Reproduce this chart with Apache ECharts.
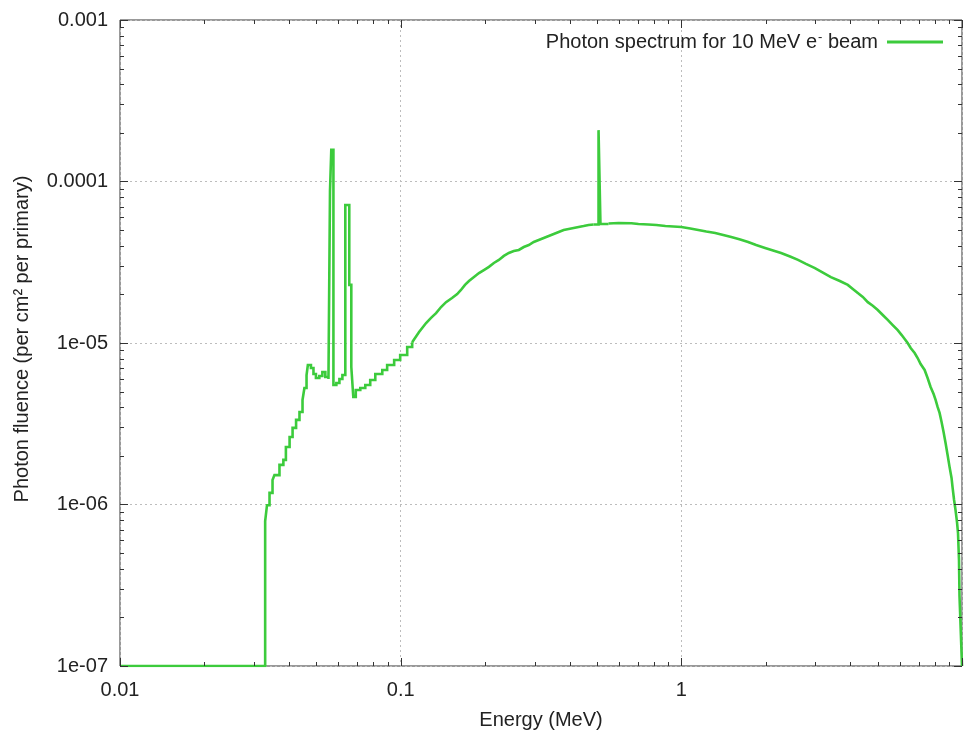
<!DOCTYPE html>
<html>
<head>
<meta charset="utf-8">
<script src="https://cdn.jsdelivr.net/npm/echarts@6/dist/echarts.min.js"></script>
<style>
html,body{margin:0;padding:0;background:#fff;}
#chart{width:965px;height:738px;}
</style>
</head>
<body>
<div id="chart"></div>
<script>
// Photon energy bin edges (MeV) and fluence (per cm^2 per primary)
const energy = [
  0.01, 0.0329, 0.0334, 0.0341, 0.03495, 0.0355, 0.0370, 0.0382, 0.0390, 0.0402,
  0.0412, 0.0424, 0.0436, 0.0447, 0.0454, 0.0462, 0.0467, 0.0479, 0.0489, 0.0499,
  0.0513, 0.0526, 0.0539, 0.0553, 0.0560, 0.0566, 0.0576, 0.0590, 0.0605, 0.0620,
  0.0635, 0.0656, 0.0667, 0.0678, 0.0692, 0.0718, 0.0748, 0.0779, 0.0812, 0.0860,
  0.0895, 0.0948, 0.0996, 0.1055, 0.1099, 0.1163, 0.1232, 0.1283, 0.1337, 0.1393,
  0.1451, 0.1524, 0.1590, 0.1640, 0.1695, 0.1751, 0.1825, 0.1901, 0.1979, 0.2063,
  0.2148, 0.2238, 0.2332, 0.2429, 0.2530, 0.2636, 0.2746, 0.2861, 0.2980, 0.3104,
  0.3234, 0.3369, 0.3510, 0.3657, 0.3809, 0.3968, 0.4133, 0.4306, 0.4486, 0.4673,
  0.4868, 0.507, 0.515, 0.5504, 0.5974, 0.6644, 0.7034, 0.7635, 0.8150, 0.8773,
  0.9367, 1.000, 1.0764, 1.1493, 1.2272, 1.3210, 1.4105, 1.5061, 1.6212, 1.7298,
  1.8469, 1.9880, 2.1227, 2.2664, 2.4397, 2.6046, 2.7797, 2.9923, 3.1947, 3.4105,
  3.6707, 3.9189, 4.0832, 4.2541, 4.4314, 4.6168, 4.8099, 5.0100, 5.2196, 5.4368,
  5.6643, 5.9013, 6.0974, 6.2482, 6.4038, 6.5634, 6.7816, 6.9492, 7.1223, 7.3590,
  7.5414, 7.7292, 7.9218, 8.0524, 8.1850, 8.3200, 8.4571, 8.5966, 8.7385, 8.8826,
  9.0290, 9.1779, 9.2532, 9.3677, 9.4828, 9.5991, 9.6781, 9.7563, 9.797, 10
];
const fluence = [
  1e-7, 7.90e-7, 9.9e-7, 1.18e-6, 1.42e-6, 1.52e-6, 1.76e-6, 1.89e-6, 2.27e-6, 2.62e-6,
  2.98e-6, 3.34e-6, 3.74e-6, 4.44e-6, 5.27e-6, 6.34e-6, 7.31e-6, 7.00e-6, 6.43e-6, 6.07e-6,
  6.25e-6, 6.61e-6, 6.16e-6, 5.98e-6, 8.73e-5, 1.57e-4, 5.49e-6, 5.65e-6, 5.98e-6, 6.34e-6,
  7.15e-5, 2.29e-5, 7.10e-6, 4.63e-6, 5.12e-6, 5.27e-6, 5.49e-6, 5.90e-6, 6.43e-6, 6.81e-6,
  7.31e-6, 7.85e-6, 8.43e-6, 9.45e-6, 1.01e-5, 1.17e-5, 1.33e-5, 1.43e-5, 1.53e-5, 1.67e-5,
  1.79e-5, 1.90e-5, 2.01e-5, 2.13e-5, 2.29e-5, 2.42e-5, 2.56e-5, 2.71e-5, 2.83e-5, 2.96e-5,
  3.13e-5, 3.27e-5, 3.46e-5, 3.61e-5, 3.71e-5, 3.77e-5, 3.93e-5, 4.04e-5, 4.22e-5, 4.34e-5,
  4.47e-5, 4.60e-5, 4.73e-5, 4.87e-5, 5.01e-5, 5.08e-5, 5.15e-5, 5.23e-5, 5.30e-5, 5.38e-5,
  5.42e-5, 2.08e-4, 5.46e-5, 5.49e-5, 5.53e-5, 5.52e-5, 5.46e-5, 5.42e-5, 5.38e-5, 5.30e-5,
  5.27e-5, 5.23e-5, 5.12e-5, 5.01e-5, 4.90e-5, 4.80e-5, 4.66e-5, 4.53e-5, 4.38e-5, 4.22e-5,
  4.04e-5, 3.88e-5, 3.74e-5, 3.61e-5, 3.43e-5, 3.27e-5, 3.09e-5, 2.91e-5, 2.73e-5, 2.56e-5,
  2.42e-5, 2.29e-5, 2.16e-5, 2.04e-5, 1.93e-5, 1.79e-5, 1.70e-5, 1.60e-5, 1.49e-5, 1.39e-5,
  1.29e-5, 1.20e-5, 1.12e-5, 1.06e-5, 1.00e-5, 9.31e-6, 8.67e-6, 8.07e-6, 7.41e-6, 6.81e-6,
  6.07e-6, 5.34e-6, 4.83e-6, 4.44e-6, 4.02e-6, 3.69e-6, 3.24e-6, 2.81e-6, 2.40e-6, 2.03e-6,
  1.71e-6, 1.46e-6, 1.28e-6, 1.07e-6, 9.25e-7, 7.79e-7, 6.66e-7, 4.53e-7, 2.71e-7, 1e-7
];
const seriesName = 'Photon spectrum for 10 MeV e- beam';

// Axis ticks and labels
const xMajorTicks = [0.01, 0.1, 1, 10];
const xTickLabels = ['0.01', '0.1', '1', ''];
const yMajorTicks = [1e-7, 1e-6, 1e-5, 1e-4, 1e-3];
const yTickLabels = ['1e-07', '1e-06', '1e-05', '0.0001', '0.001'];
const minorMantissas = [2, 3, 4, 5, 6, 7, 8, 9];
const xDecades = [0.01, 0.1, 1];
const yDecades = [1e-7, 1e-6, 1e-5, 1e-4];

const X_MIN = 0.01, X_MAX = 10, Y_MIN = 1e-7, Y_MAX = 1e-3;
const FONT = '"Liberation Sans", Arial, sans-serif';
const GREEN = '#3ccb3c';
const BORDER = '#333333';

const xMinorTicks = [];
xDecades.forEach(d => minorMantissas.forEach(m => xMinorTicks.push(+(m * d).toPrecision(3))));
const yMinorTicks = [];
yDecades.forEach(d => minorMantissas.forEach(m => yMinorTicks.push(+(m * d).toPrecision(3))));

function labelFor(v, ticks, labels) {
  const lv = Math.log10(v);
  for (let i = 0; i < ticks.length; i++) {
    if (Math.abs(Math.log10(ticks[i]) - lv) < 1e-6) return labels[i];
  }
  return '';
}

const tickItems = [];
xMajorTicks.forEach(v => tickItems.push([v, Y_MIN, 0, 8]));
xMinorTicks.forEach(v => tickItems.push([v, Y_MIN, 0, 4]));
yMajorTicks.forEach(v => tickItems.push([X_MIN, v, 1, 8]));
yMinorTicks.forEach(v => tickItems.push([X_MIN, v, 1, 4]));

const pts = energy.map((e, i) => [e, fluence[i]]);
// stepped (histogram) parts where bins are wide or narrow lines occur; plain polyline where bins are dense
function part(from, to, stepped) {
  return {
    name: seriesName,
    type: 'line',
    step: stepped ? 'end' : false,
    symbol: 'none',
    showSymbol: false,
    data: pts.slice(from, to),
    lineStyle: {color: GREEN, width: 2.6, join: 'miter'},
    itemStyle: {color: GREEN},
    z: 5
  };
}

const chart = echarts.init(document.getElementById('chart'), null, {renderer: 'canvas'});
chart.setOption({
  backgroundColor: '#ffffff',
  animation: false,
  textStyle: {fontFamily: FONT},
  grid: {left: 120, top: 20, width: 844, height: 646, show: true, borderColor: BORDER, borderWidth: 1, backgroundColor: 'transparent'},
  legend: {
    data: [seriesName],
    right: 22, top: 31, padding: 0,
    align: 'right',
    icon: 'rect',
    itemWidth: 56, itemHeight: 3,
    itemGap: 0,
    formatter: () => '{a|Photon spectrum for 10 MeV e}{s|-}{a| beam}',
    textStyle: {
      color: '#222',
      padding: [0, 4, 0, 0],
      rich: {
        a: {fontFamily: FONT, fontSize: 20, color: '#222'},
        s: {fontFamily: FONT, fontSize: 13, color: '#222', padding: [0, 0, 9, 1]}
      }
    }
  },
  xAxis: {
    type: 'log', logBase: 10, min: X_MIN, max: X_MAX,
    name: 'Energy (MeV)', nameLocation: 'middle', nameGap: 44,
    nameTextStyle: {fontFamily: FONT, fontSize: 20, color: '#222'},
    axisLine: {show: false},
    axisTick: {show: false},
    axisLabel: {
      fontFamily: FONT, fontSize: 20, color: '#222', margin: 14,
      showMinLabel: true, showMaxLabel: true,
      formatter: v => labelFor(v, xMajorTicks, xTickLabels)
    },
    splitLine: {show: true, lineStyle: {color: '#bdbdbd', width: 1, type: [2, 3]}},
    minorTick: {show: false}
  },
  yAxis: {
    type: 'log', logBase: 10, min: Y_MIN, max: Y_MAX,
    name: 'Photon fluence (per cm² per primary)', nameLocation: 'middle', nameGap: 88,
    nameRotate: 90,
    nameTextStyle: {fontFamily: FONT, fontSize: 20, color: '#222', padding: [0, 0, 0, 8]},
    axisLine: {show: false},
    axisTick: {show: false},
    axisLabel: {
      fontFamily: FONT, fontSize: 20, color: '#222', margin: 12,
      showMinLabel: true, showMaxLabel: true,
      formatter: v => labelFor(v, yMajorTicks, yTickLabels)
    },
    splitLine: {show: true, lineStyle: {color: '#bdbdbd', width: 1, type: [2, 3]}}
  },
  series: [
    part(0, 45, true),
    part(44, 81, false),
    part(80, 84, true),
    part(83, energy.length, false),
    {
      name: 'ticks',
      type: 'custom',
      silent: true,
      z: 6,
      clip: false,
      data: tickItems,
      encode: {x: 0, y: 1},
      renderItem: function (params, api) {
        const dir = api.value(2);
        const len = api.value(3);
        const style = {stroke: BORDER, lineWidth: 1};
        if (dir === 0) {
          const v = api.value(0);
          const b = api.coord([v, Y_MIN]);
          const t = api.coord([v, Y_MAX]);
          const x = Math.round(b[0]) + 0.5;
          return {type: 'group', children: [
            {type: 'line', shape: {x1: x, y1: b[1], x2: x, y2: b[1] - len}, style: style},
            {type: 'line', shape: {x1: x, y1: t[1], x2: x, y2: t[1] + len}, style: style}
          ]};
        } else {
          const v = api.value(1);
          const l = api.coord([X_MIN, v]);
          const r = api.coord([X_MAX, v]);
          const y = Math.round(l[1]) + 0.5;
          return {type: 'group', children: [
            {type: 'line', shape: {x1: l[0], y1: y, x2: l[0] + len, y2: y}, style: style},
            {type: 'line', shape: {x1: r[0], y1: y, x2: r[0] - len, y2: y}, style: style}
          ]};
        }
      }
    }
  ]
});
</script>
</body>
</html>
